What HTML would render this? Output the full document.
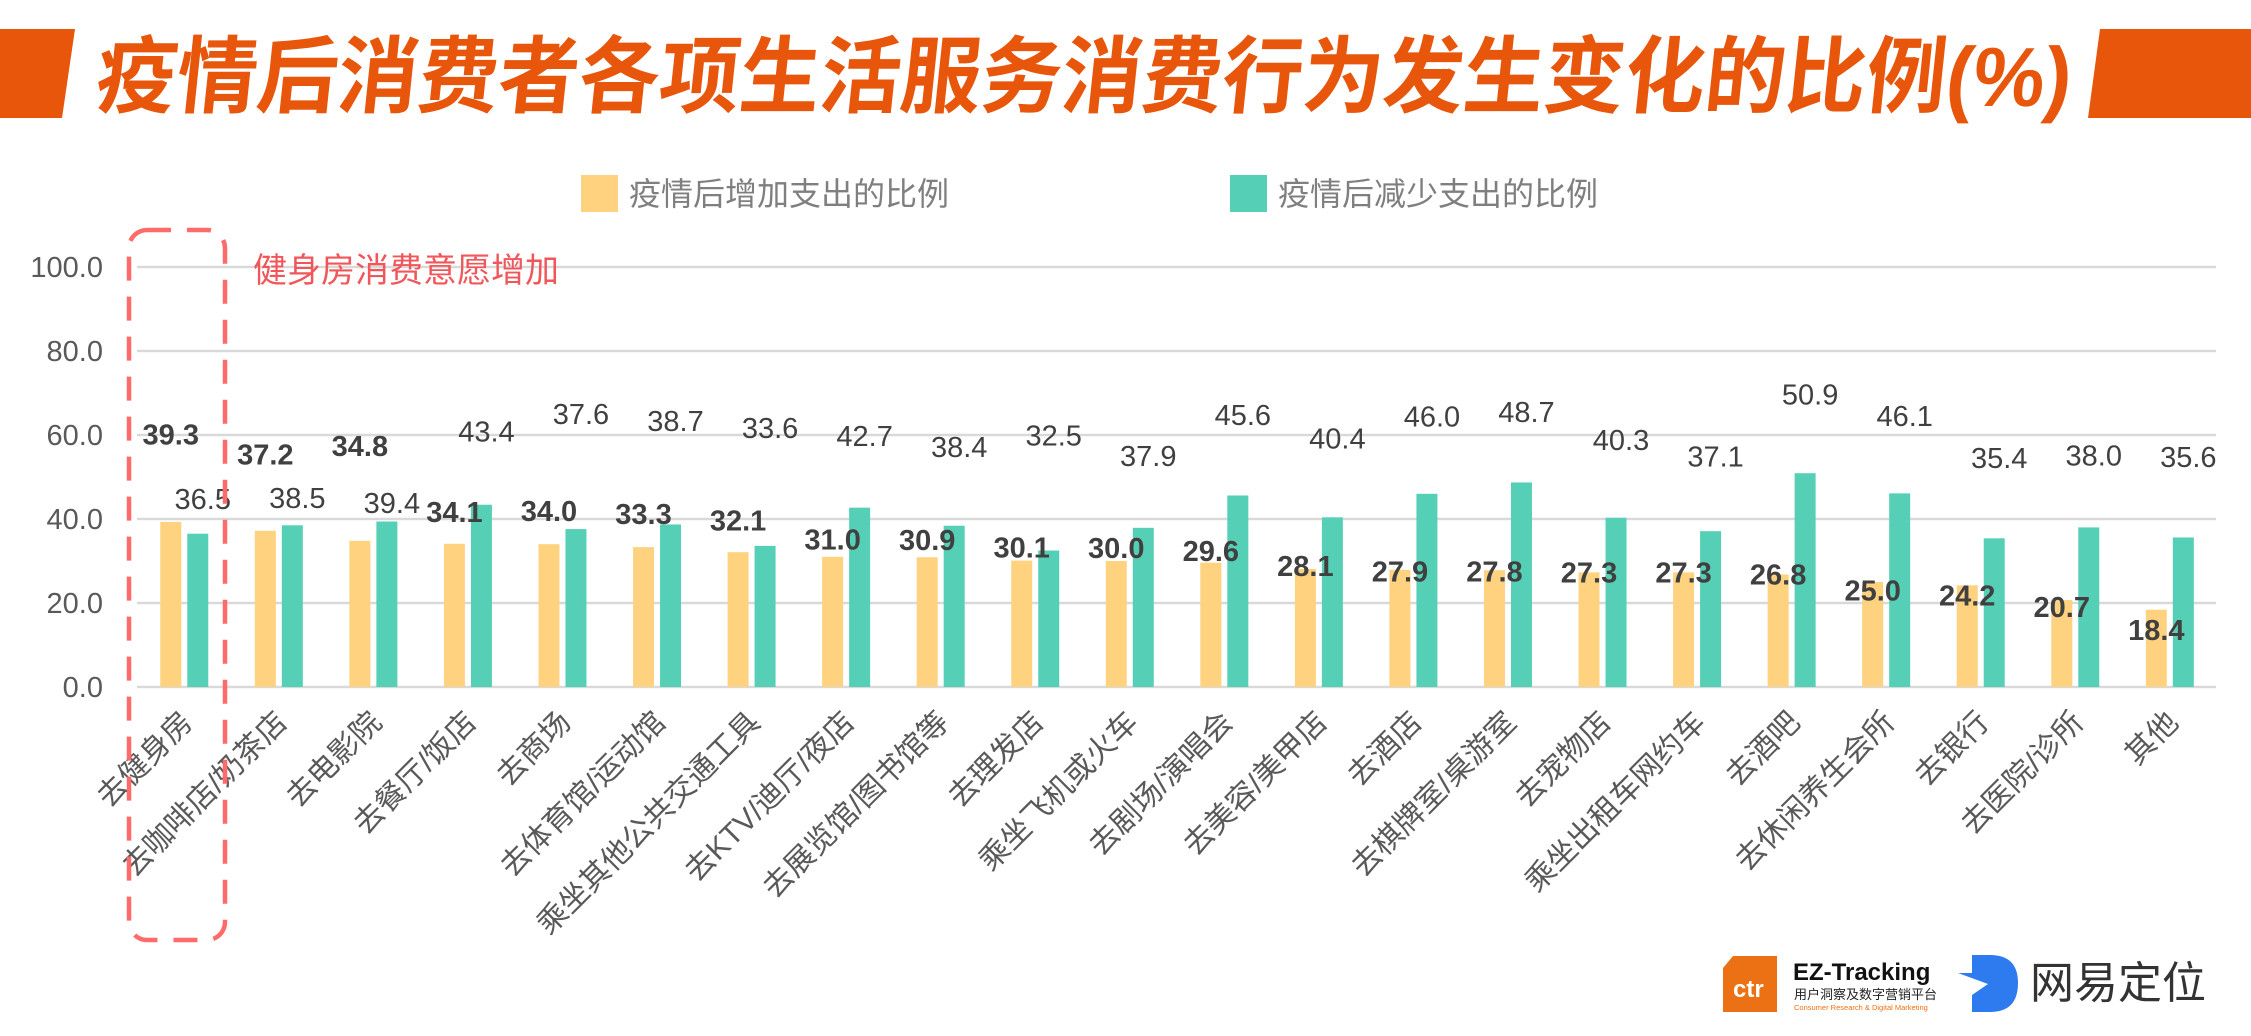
<!DOCTYPE html>
<html><head><meta charset="utf-8">
<style>
html,body{margin:0;padding:0;background:#fff;}
body{width:2251px;height:1031px;overflow:hidden;font-family:"Liberation Sans","Noto Sans CJK SC",sans-serif;}
</style></head>
<body>
<svg id="chart" width="2251" height="1031" viewBox="0 0 2251 1031" xmlns="http://www.w3.org/2000/svg" font-family="Liberation Sans, Noto Sans CJK SC, sans-serif">
  <g>
    <polygon points="0,29 75,29 62,118 0,118" fill="#E8560C"/>
    <polygon points="2100,29 2251,29 2251,118 2088,118" fill="#E8560C"/>
    <text x="95" y="106" font-size="84" font-weight="bold" fill="#E8560C" transform="skewX(-6) translate(10,0)" textLength="1975" lengthAdjust="spacingAndGlyphs">疫情后消费者各项生活服务消费行为发生变化的比例(%)</text>
  </g>
  <g>
    <g>
      <rect x="581" y="175" width="37" height="37" fill="#FFD27F"/>
      <text x="629" y="205" font-size="32" fill="#7f7f7f">疫情后增加支出的比例</text>
    </g>
    <g>
      <rect x="1230" y="175" width="37" height="37" fill="#55D0B6"/>
      <text x="1278" y="205" font-size="32" fill="#7f7f7f">疫情后减少支出的比例</text>
    </g>
  </g>
  <g id="grid"></g>
  <g id="yticks"></g>
  <g id="bars"></g>
  <g id="labels"></g>
  <g id="xlabels"></g>
  <rect x="129" y="230" width="96" height="710" rx="18" fill="none" stroke="#FF6B6B" stroke-width="4.5" stroke-dasharray="24,16"/>
  <text x="253" y="282" font-size="34" fill="#F0565A">健身房消费意愿增加</text>
  <g>
    <path d="M1733,956 L1777,956 L1777,1012 L1723,1012 L1723,968 Z" fill="#EC7014"/>
    <text x="1733" y="997" font-size="24" fill="#fff" font-weight="bold">ctr</text>
    <text x="1793" y="980" font-size="24" font-weight="bold" fill="#111">EZ-Tracking</text>
    <text x="1794" y="999" font-size="13" fill="#222">用户洞察及数字营销平台</text>
    <text x="1794" y="1010" font-size="7.5" fill="#EC7014">Consumer Research &amp; Digital Marketing</text>
  </g>
  <g>
    <path d="M1972,955 L1990,955 Q2018,955 2018,983 Q2018,1012 1990,1012 L1972,1012 L1972,995 L1988,984 L1958,973 L1972,973 Z" fill="#2E7BF0"/>
    <text x="2030" y="998" font-size="44" fill="#333">网易定位</text>
  </g>
</svg>
<script>
const categories = ["去健身房","去咖啡店/奶茶店","去电影院","去餐厅/饭店","去商场","去体育馆/运动馆","乘坐其他公共交通工具","去KTV/迪厅/夜店","去展览馆/图书馆等","去理发店","乘坐飞机或火车","去剧场/演唱会","去美容/美甲店","去酒店","去棋牌室/桌游室","去宠物店","乘坐出租车网约车","去酒吧","去休闲养生会所","去银行","去医院/诊所","其他"];
const increaseValues = [39.3,37.2,34.8,34.1,34.0,33.3,32.1,31.0,30.9,30.1,30.0,29.6,28.1,27.9,27.8,27.3,27.3,26.8,25.0,24.2,20.7,18.4];
const decreaseValues = [36.5,38.5,39.4,43.4,37.6,38.7,33.6,42.7,38.4,32.5,37.9,45.6,40.4,46.0,48.7,40.3,37.1,50.9,46.1,35.4,38.0,35.6];
const yTicks = [0,20,40,60,80,100];
const incLabelNudge = [61,53,66,22,23,23,22,12,12,9,9,8,2,-1,-1,0,0,0,-6,-7,-5,-14];
const decLabelNudge = [24,19,13,51,80,72,82,50,55,80,50,56,55,54,49,54,52,55,54,56,50,56];

const NS = "http://www.w3.org/2000/svg";
const plotX0 = 137, catW = 94.55, y0 = 687, pxPerUnit = 4.2, barW = 21, S = 1.4356;
const yScale = v => y0 - v * pxPerUnit;
const xCenter = i => plotX0 + catW * i + catW / 2;
function mk(tag, attrs, parent) {
  const e = document.createElementNS(NS, tag);
  for (const k in attrs) e.setAttribute(k, attrs[k]);
  parent.appendChild(e);
  return e;
}
const grid = document.getElementById('grid'), yt = document.getElementById('yticks');
yTicks.forEach(t => {
  const l = mk('line', {x1: plotX0, x2: 2216, y1: yScale(t), y2: yScale(t), stroke: '#d9d9d9', 'stroke-width': 2.5}, grid);
  
  
  const tx = mk('text', {x: 103, y: yScale(t) + 10, 'font-size': 29, fill: '#595959', 'text-anchor': 'end'}, yt);
  tx.textContent = t.toFixed(1);
  
  
});
const bars = document.getElementById('bars'), labels = document.getElementById('labels'), xl = document.getElementById('xlabels');
categories.forEach((c, i) => {
  const cx = xCenter(i);
  const yb = mk('rect', {x: cx - 3 - barW, y: yScale(increaseValues[i]), width: barW, height: increaseValues[i] * pxPerUnit, fill: '#FFD27F'}, bars);
  
  
  const tb = mk('rect', {x: cx + 3, y: yScale(decreaseValues[i]), width: barW, height: decreaseValues[i] * pxPerUnit, fill: '#55D0B6'}, bars);
  
  
  const li = mk('text', {x: cx - 3 - barW / 2, y: yScale(increaseValues[i]) - incLabelNudge[i] * S + 10, 'font-size': 29, 'font-weight': 'bold', fill: '#404040', 'text-anchor': 'middle'}, labels);
  li.textContent = increaseValues[i].toFixed(1);
  
  
  const ld = mk('text', {x: cx + 3 + barW / 2 + 5, y: yScale(decreaseValues[i]) - decLabelNudge[i] * S + 10, 'font-size': 29, fill: '#404040', 'text-anchor': 'middle'}, labels);
  ld.textContent = decreaseValues[i].toFixed(1);
  
  
  const xt = mk('text', {x: cx + 10, y: 724, 'font-size': 30, fill: '#595959', 'text-anchor': 'end', transform: `rotate(-45 ${cx + 10} 724)`}, xl);
  xt.textContent = c;
  
  
});
</script>
</body></html>
